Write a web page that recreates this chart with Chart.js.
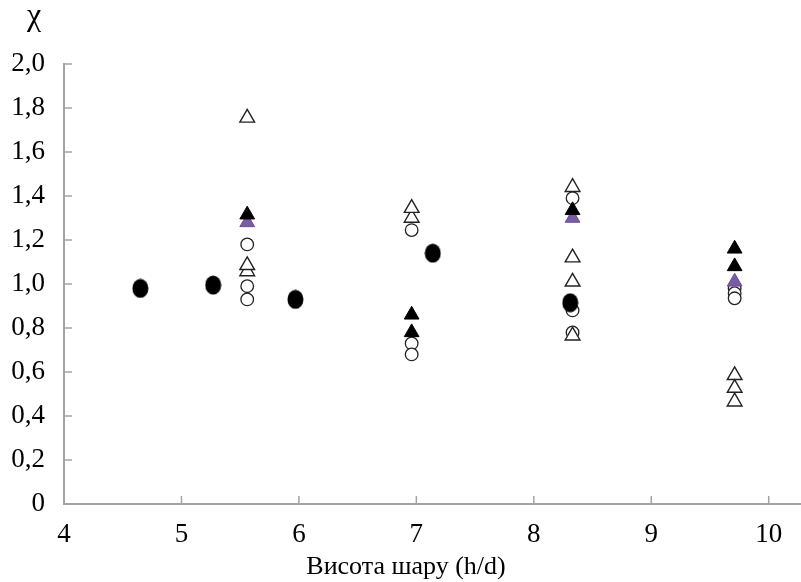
<!DOCTYPE html>
<html>
<head>
<meta charset="utf-8">
<script src="https://cdn.jsdelivr.net/npm/chart.js@4"></script>
<style>
html, body { margin: 0; padding: 0; background: #fff; overflow: hidden; }
#wrap { width: 801px; height: 582px; }
canvas { display: block; }
</style>
</head>
<body>
<div id="wrap"><canvas id="myChart" width="801" height="582"></canvas></div>
<script>
// values (x = h/d, y = chi)
var filledCircleX = [4.65, 5.27, 5.97, 7.14, 8.31];
var filledCircleY = [0.98, 0.995, 0.93, 1.14, 0.915];

var openCircleX = [5.56, 5.56, 5.56, 6.96, 6.96, 6.96, 8.33, 8.33, 8.33, 9.71, 9.71, 9.71];
var openCircleY = [1.18, 0.99, 0.93, 1.245, 0.73, 0.68, 1.39, 0.88, 0.78, 0.98, 0.958, 0.935];

var openTriangleX = [5.56, 5.56, 5.56, 6.96, 6.96, 8.33, 8.33, 8.33, 8.33, 9.71, 9.71, 9.71];
var openTriangleY = [1.755, 1.057, 1.085, 1.30, 1.345, 1.44, 1.12, 1.01, 0.765, 0.585, 0.527, 0.465];

var blackTriangleX = [5.56, 6.96, 6.96, 8.33, 9.71, 9.71];
var blackTriangleY = [1.315, 0.86, 0.78, 1.335, 1.16, 1.08];

var purpleTriangleX = [5.56, 8.33, 9.71];
var purpleTriangleY = [1.28, 1.30, 1.01];

var xTicks = [4, 5, 6, 7, 8, 9, 10];
var yTicks = [0, 0.2, 0.4, 0.6, 0.8, 1.0, 1.2, 1.4, 1.6, 1.8, 2.0];
var xTitle = 'Висота шару (h/d)';

var serif = '"Liberation Serif", "Times New Roman", serif';
var axisColor = '#a3a3a3';

function pairs(xs, ys) {
    return xs.map(function (x, i) { return { x: x, y: ys[i] }; });
}

// the big black dots are slightly taller than wide
var ellipseDot = document.createElement('canvas');
ellipseDot.width = 17;
ellipseDot.height = 20;
(function () {
    var c = ellipseDot.getContext('2d');
    c.fillStyle = '#000';
    c.beginPath();
    c.ellipse(8.5, 10, 8, 9.5, 0, 0, Math.PI * 2);
    c.fill();
})();

// tick marks pointing into the plot, the chi label and the axis title
var innerTicks = {
    id: 'innerTicks',
    afterDraw: function (chart) {
        var ctx = chart.ctx;
        var xs = chart.scales.x, ys = chart.scales.y;
        var area = chart.chartArea;
        ctx.save();
        ctx.strokeStyle = axisColor;
        ctx.lineWidth = 1.5;
        xTicks.forEach(function (v) {
            var px = xs.getPixelForValue(v);
            ctx.beginPath();
            ctx.moveTo(px, area.bottom);
            ctx.lineTo(px, area.bottom - 8);
            ctx.stroke();
        });
        yTicks.forEach(function (v) {
            var py = ys.getPixelForValue(v);
            ctx.beginPath();
            ctx.moveTo(area.left, py);
            ctx.lineTo(area.left + 8, py);
            ctx.stroke();
        });
        ctx.fillStyle = '#000';
        ctx.textAlign = 'center';
        ctx.textBaseline = 'middle';
        ctx.font = '32px ' + serif;
        ctx.fillText('χ', 34, 17);
        ctx.font = '26px ' + serif;
        ctx.fillText(xTitle, 406, 567);
        ctx.restore();
    }
};

var element = document.getElementById('myChart').getContext('2d');

var chartData = {
    datasets: [{
        label: 'filled circles',
        data: pairs(filledCircleX, filledCircleY),
        pointStyle: ellipseDot,
        pointRadius: 9
    }, {
        label: 'black triangles',
        data: pairs(blackTriangleX, blackTriangleY),
        pointStyle: 'triangle',
        pointRadius: 8.5,
        backgroundColor: '#000',
        borderColor: '#000',
        borderWidth: 1
    }, {
        label: 'purple triangles',
        data: pairs(purpleTriangleX, purpleTriangleY),
        pointStyle: 'triangle',
        pointRadius: 8.5,
        backgroundColor: '#7a5ca6',
        borderColor: '#6a4f94',
        borderWidth: 1
    }, {
        label: 'open triangles',
        data: pairs(openTriangleX, openTriangleY),
        pointStyle: 'triangle',
        pointRadius: 8.5,
        backgroundColor: '#fff',
        borderColor: '#222',
        borderWidth: 1.4
    }, {
        label: 'open circles',
        data: pairs(openCircleX, openCircleY),
        pointStyle: 'circle',
        pointRadius: 6.3,
        backgroundColor: '#fff',
        borderColor: '#222',
        borderWidth: 1.3
    }]
};

var chartOptions = {
    responsive: false,
    animation: false,
    layout: { autoPadding: false, padding: { top: 64, right: 0, left: 0, bottom: 0 } },
    plugins: {
        legend: { display: false },
        tooltip: { enabled: false }
    },
    scales: {
        x: {
            type: 'linear',
            min: 4,
            max: 10.275,
            afterFit: function (scale) {
                scale.height = 78;
                scale.paddingLeft = 0;
                scale.paddingRight = 0;
            },
            afterBuildTicks: function (scale) {
                scale.ticks = xTicks.map(function (v) { return { value: v }; });
            },
            ticks: {
                color: '#000',
                padding: 15,
                font: { family: serif, size: 27 },
                callback: function (v) { return String(v); }
            },
            grid: { display: true, drawOnChartArea: false, drawTicks: false },
            border: { display: true, color: axisColor, width: 2 }
        },
        y: {
            type: 'linear',
            min: 0,
            max: 2,
            afterFit: function (scale) {
                scale.width = 64;
                scale.paddingTop = 0;
                scale.paddingBottom = 0;
            },
            afterBuildTicks: function (scale) {
                scale.ticks = yTicks.map(function (v) { return { value: v }; });
            },
            ticks: {
                color: '#000',
                padding: 19,
                font: { family: serif, size: 27 },
                callback: function (v) {
                    return v === 0 ? '0' : v.toFixed(1).replace('.', ',');
                }
            },
            grid: { display: true, drawOnChartArea: false, drawTicks: false },
            border: { display: true, color: axisColor, width: 2 }
        }
    }
};

var chart = new Chart(element, { type: 'scatter', data: chartData, options: chartOptions, plugins: [innerTicks] });
</script>
</body>
</html>
